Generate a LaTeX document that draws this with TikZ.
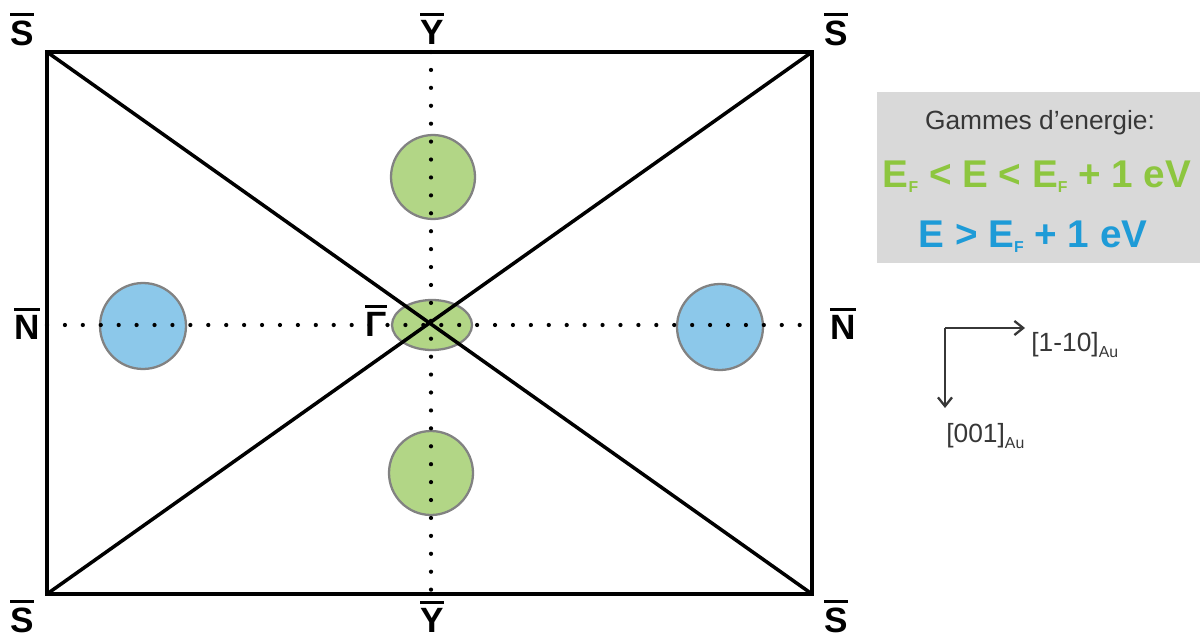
\documentclass[tikz,border=0pt]{standalone}
\usepackage{fontspec}
\setmainfont{Liberation Sans}
\usetikzlibrary{arrows.meta, positioning, shapes.geometric}

\definecolor{spotgreen}{RGB}{178, 214, 134}
\definecolor{spotblue}{RGB}{140, 200, 234}
\definecolor{spotedge}{RGB}{130, 130, 130}
\definecolor{textgreen}{RGB}{141, 198, 63}
\definecolor{textblue}{RGB}{30, 155, 215}
\definecolor{legendgray}{RGB}{217, 217, 217}
\definecolor{darkgray}{RGB}{55, 55, 55}

% symbol with a bar over it
\newcommand{\barpt}[1]{\vbox{\hrule height 1.7pt\kern 2.3pt\hbox{#1}}}
% small lowered index
\newcommand{\lowidx}[2]{\raisebox{#1}{\fontsize{9}{10}\selectfont #2}}

\tikzset{
  zonelabel/.style={font=\fontsize{20}{24}\selectfont\bfseries, inner sep=0pt, anchor=base},
  frame/.style={line width=2pt, black},
  symline/.style={line width=2.4pt, line cap=round, dash pattern=on 0pt off 10.2pt},
  greenspot/.style={circle, draw=spotedge, line width=1.3pt, fill=spotgreen,
                    minimum size=1.68cm, inner sep=0pt},
  bluespot/.style={circle, draw=spotedge, line width=1.3pt, fill=spotblue,
                   minimum size=1.72cm, inner sep=0pt},
  axisarrow/.style={-{Straight Barb[length=5pt, width=8pt]}, line width=1.3pt, darkgray},
  axislabel/.style={font=\fontsize{15}{18}\selectfont, text=darkgray, inner sep=0pt},
}

\begin{document}
\begin{tikzpicture}[x=0.02cm, y=-0.02cm]
  \useasboundingbox (0,0) rectangle (1204,639);

  % zone corners and edge midpoints
  \coordinate (tl) at (47,52);
  \coordinate (tr) at (812,52);
  \coordinate (bl) at (47,594);
  \coordinate (br) at (812,594);
  \coordinate (ytop) at (431,52);
  \coordinate (ybot) at (431,594);
  \coordinate (nleft) at (47,325);
  \coordinate (nright) at (812,325);

  % energy spots
  \node[greenspot] (gtop) at (433,177) {};
  \node[greenspot] (gbot) at (431,473) {};
  \node[bluespot] (bleft) at (143,326) {};
  \node[bluespot] (bright) at (720,327) {};
  \node[ellipse, draw=spotedge, line width=1.3pt, fill=spotgreen,
        minimum width=1.6cm, minimum height=1.0cm, inner sep=0pt] (gamma) at (432,325) {};

  \draw[symline] (nleft) -- (nright);
  \draw[symline] (ytop) -- (ybot);
  \draw[frame] (tl) -- (br);
  \draw[frame] (bl) -- (tr);
  \draw[frame] (tl) rectangle (br);

  % high symmetry points
  \node[zonelabel] (s1) at (22,45) {\barpt{S}};
  \node[zonelabel] (s2) at (836,45) {\barpt{S}};
  \node[zonelabel] (s3) at (22,632) {\barpt{S}};
  \node[zonelabel] (s4) at (836,632) {\barpt{S}};
  \node[zonelabel] (y1) at (432,44) {\barpt{Y}};
  \node[zonelabel] (y2) at (432,632) {\barpt{Y}};
  \node[zonelabel] (n1) at (27,339) {\barpt{N}};
  \node[zonelabel] (n2) at (843,339) {\barpt{N}};
  \node[zonelabel] (g0) at (376,336) {\barpt{Γ}};

  % legend
  \fill[legendgray] (877,92) rectangle (1200,263);
  \node[font=\fontsize{15}{18}\selectfont, text=darkgray] (legtitle) at (1040,123) {Gammes d’energie:};
  \node[font=\fontsize{22}{26}\selectfont\bfseries, text=textgreen] (leggreen) at (1037,177)
        {E\lowidx{-3pt}{F} < E < E\lowidx{-3pt}{F} + 1 eV};
  \node[font=\fontsize{22}{26}\selectfont\bfseries, text=textblue] (legblue) at (1033,237)
        {E > E\lowidx{-3pt}{F} + 1 eV};

  % crystal directions
  \coordinate (axo) at (945,328);
  \coordinate (axr) at (1025,328);
  \coordinate (axd) at (945,408);
  \draw[axisarrow] (axo) -- (axr);
  \draw[axisarrow] (axo) -- (axd);
  \node[axislabel, anchor=west] (dirx) at (1031,345) {[1-10]\lowidx{-3pt}{Au}};
  \node[axislabel, anchor=west] (diry) at (946,436) {[001]\lowidx{-3pt}{Au}};
\end{tikzpicture}
\end{document}
